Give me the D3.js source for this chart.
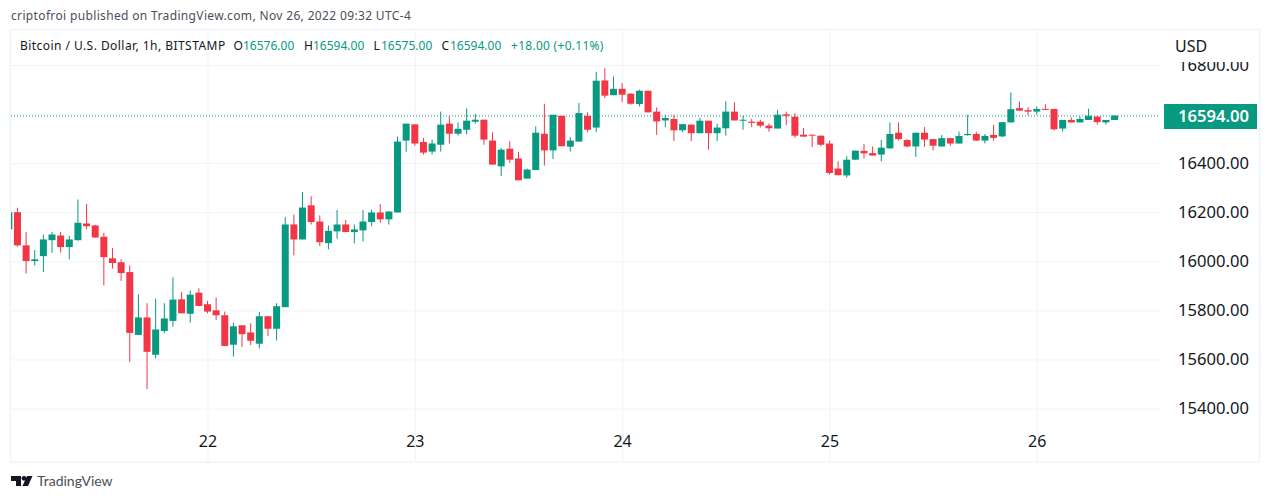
<!DOCTYPE html>
<html>
<head>
<meta charset="utf-8">
<script src="https://cdn.jsdelivr.net/npm/d3@7"></script>
<style>
  html, body { margin: 0; padding: 0; background: #fff; overflow: hidden; }
  text { font-family: "Noto Sans", sans-serif; }
</style>
</head>
<body>
<script>
// hourly candles, first one is Nov 21 01:00
var opens = [16130,16200,16065,16001,16021,16086,16105,16058,16086,16154,
  16146,16100,16012,15996,15956,15700,15771,15619,15716,15757,
  15845,15786,15872,15825,15800,15780,15660,15739,15710,15664,
  15776,15725,15813,16150,16089,16228,16162,16074,16122,16150,
  16119,16126,16160,16199,16171,16199,16492,16558,16486,16447,
  16475,16561,16520,16536,16569,16577,16492,16387,16459,16419,
  16337,16372,16520,16452,16593,16467,16488,16593,16545,16737,
  16677,16703,16683,16641,16695,16610,16574,16580,16534,16557,
  16522,16573,16522,16542,16610,16574,16569,16569,16553,16541,
  16599,16589,16516,16516,16512,16480,16378,16350,16414,16450,
  16441,16435,16460,16524,16494,16468,16524,16498,16468,16502,
  16480,16514,16519,16492,16515,16509,16566,16624,16616,16610,
  16621,16621,16541,16576,16566,16576,16590,16566,16576];
var closes = [16200,16065,16001,16008,16089,16109,16058,16089,16157,16143,
  16097,16017,15993,15952,15708,15771,15631,15722,15767,15844,
  15788,15864,15818,15795,15780,15655,15735,15703,15676,15776,
  15725,15817,16150,16089,16219,16160,16078,16124,16150,16119,
  16130,16162,16199,16171,16203,16488,16561,16480,16443,16480,
  16557,16520,16540,16573,16577,16496,16394,16455,16414,16330,
  16374,16524,16452,16597,16469,16492,16604,16536,16736,16675,
  16703,16679,16642,16695,16607,16570,16584,16534,16559,16522,
  16573,16522,16545,16610,16574,16577,16564,16553,16542,16597,
  16593,16512,16508,16512,16475,16360,16351,16414,16451,16440,
  16431,16463,16519,16498,16468,16524,16496,16471,16502,16480,
  16511,16519,16492,16511,16503,16567,16620,16614,16610,16621,
  16618,16538,16576,16566,16580,16593,16567,16576,16594];
var highs = [16205,16218,16120,16046,16109,16120,16120,16103,16252,16234,
  16149,16116,16054,16008,15983,15865,15829,15848,15829,15935,
  15875,15882,15890,15838,15852,15795,15750,15739,15748,15794,
  15776,15829,16180,16191,16283,16265,16187,16146,16209,16168,
  16150,16209,16211,16233,16203,16508,16561,16558,16503,16496,
  16610,16593,16566,16623,16601,16577,16526,16462,16489,16446,
  16378,16550,16642,16597,16593,16507,16645,16607,16772,16787,
  16753,16726,16685,16699,16695,16627,16597,16597,16559,16557,
  16584,16573,16561,16652,16648,16593,16580,16577,16561,16618,
  16610,16604,16543,16516,16512,16492,16408,16428,16451,16479,
  16468,16495,16566,16566,16498,16524,16547,16498,16515,16502,
  16529,16597,16528,16519,16556,16567,16688,16651,16628,16631,
  16640,16621,16576,16586,16590,16622,16590,16576,16594];
var lows = [16125,16060,15950,15983,15956,16035,16035,16008,16084,16130,
  16095,15902,15970,15920,15590,15700,15479,15604,15707,15733,
  15788,15750,15818,15788,15760,15655,15612,15651,15658,15645,
  15696,15677,15813,16024,16089,16150,16062,16049,16092,16119,
  16073,16081,16143,16157,16150,16199,16447,16471,16435,16435,
  16447,16480,16512,16517,16561,16475,16394,16347,16401,16330,
  16337,16372,16390,16417,16469,16447,16488,16526,16526,16665,
  16677,16649,16638,16631,16607,16515,16547,16490,16526,16490,
  16522,16455,16490,16512,16574,16536,16547,16545,16528,16541,
  16555,16504,16508,16466,16469,16353,16351,16341,16414,16419,
  16431,16407,16460,16492,16465,16425,16467,16452,16468,16471,
  16480,16512,16490,16480,16492,16506,16566,16614,16595,16598,
  16618,16533,16529,16566,16566,16576,16557,16557,16575];

var priceTicks = [15400, 15600, 15800, 16000, 16200, 16400, 16600, 16800];
var dayIndexes = [23, 47, 71, 95, 119];
var dayLabels = ['22', '23', '24', '25', '26'];
var lastPrice = 16594;

var upColor = '#089981', downColor = '#f23645', gridColor = '#f0f3fa', textColor = '#131722';
var w = 1271, h = 501;

var x = d3.scaleLinear().domain([23, 128]).range([207.5, 1114.5]);
var y = d3.scaleLinear().domain([15400, 16800]).range([408.5, 65]);

var svg = d3.select('body').append('svg').attr('width', w).attr('height', h)
  .style('display', 'block');

svg.append('text').attr('x', 11).attr('y', 20)
  .attr('font-size', 12).attr('letter-spacing', 0.35).attr('fill', '#4a4e59')
  .text('criptofroi published on TradingView.com, Nov 26, 2022 09:32 UTC-4');

// frame
svg.append('rect').attr('x', 10.5).attr('y', 29.5).attr('width', 1249).attr('height', 432.5)
  .attr('fill', 'none').attr('stroke', '#f0f3fa').attr('stroke-width', 1.5);

svg.append('clipPath').attr('id', 'pane').append('rect')
  .attr('x', 11).attr('y', 30).attr('width', 1149).attr('height', 432);

// grid
var grid = svg.append('g').attr('clip-path', 'url(#pane)');
grid.append('g').attr('transform', 'translate(1160,0)')
  .call(d3.axisLeft(y).tickValues(priceTicks).tickSize(1149).tickFormat(''))
  .call(function(g) {
    g.select('.domain').remove();
    g.selectAll('line').attr('stroke', gridColor);
  });
grid.append('g').attr('transform', 'translate(0,462)')
  .call(d3.axisTop(x).tickValues(dayIndexes).tickSize(432).tickFormat(''))
  .call(function(g) {
    g.select('.domain').remove();
    g.selectAll('line').attr('stroke', gridColor);
  });

// last price line
grid.append('line')
  .attr('x1', 11).attr('x2', 1164)
  .attr('y1', y(lastPrice) + 0.5).attr('y2', y(lastPrice) + 0.5)
  .attr('stroke', upColor).attr('stroke-width', 1).attr('stroke-dasharray', '1 2');

// candles
var candles = svg.append('g').attr('clip-path', 'url(#pane)')
  .selectAll('g').data(d3.range(opens.length)).join('g');

function candleColor(i) { return closes[i] >= opens[i] ? upColor : downColor; }

candles.append('line')
  .attr('x1', function(i) { return x(i); })
  .attr('x2', function(i) { return x(i); })
  .attr('y1', function(i) { return y(highs[i]); })
  .attr('y2', function(i) { return y(lows[i]); })
  .attr('stroke', candleColor).attr('stroke-width', 1);

candles.append('rect')
  .attr('x', function(i) { return x(i) - 3.5; })
  .attr('width', 7)
  .attr('y', function(i) { return y(Math.max(opens[i], closes[i])); })
  .attr('height', function(i) { return Math.max(1, Math.abs(y(opens[i]) - y(closes[i]))); })
  .attr('fill', candleColor);

// price axis
var priceAxis = svg.append('g').attr('transform', 'translate(1249,0)')
  .call(d3.axisLeft(y).tickValues(priceTicks).tickSize(0).tickPadding(0)
    .tickFormat(function(d) { return d.toFixed(2); }));
priceAxis.select('.domain').remove();
priceAxis.selectAll('text').attr('font-size', 16.6).attr('fill', textColor)
  .style('font-family', '"Noto Sans", sans-serif');
priceAxis.selectAll('.tick').filter(function(d) { return d === 16600; }).remove();

// header covers the top of the 16800 label
svg.append('rect').attr('x', 1165).attr('y', 31).attr('width', 92).attr('height', 31).attr('fill', '#fff');
svg.append('text').attr('x', 1175).attr('y', 52).attr('font-size', 16).attr('fill', textColor).text('USD');

svg.append('rect').attr('x', 1164).attr('y', 104).attr('width', 93).attr('height', 25).attr('fill', upColor);
svg.append('text').attr('x', 1249).attr('y', 122).attr('text-anchor', 'end')
  .attr('font-size', 16.6).attr('font-weight', 600).attr('fill', '#fff').text(lastPrice.toFixed(2));

// time axis
var timeAxis = svg.append('g').attr('transform', 'translate(0,442)')
  .call(d3.axisBottom(x).tickValues(dayIndexes).tickSize(0).tickPadding(0)
    .tickFormat(function(d, i) { return dayLabels[i]; }));
timeAxis.select('.domain').remove();
timeAxis.selectAll('text').attr('font-size', 16).attr('fill', textColor).attr('dy', '0.32em')
  .attr('y', 0).style('font-family', '"Noto Sans", sans-serif');

// legend
var legend = [
  [20, 'Bitcoin / U.S. Dollar, 1h, BITSTAMP', textColor, 0.45],
  [233.5, 'O', textColor, 0], [243, '16576.00', upColor, 0],
  [304, 'H', textColor, 0], [313, '16594.00', upColor, 0],
  [373.5, 'L', textColor, 0], [381, '16575.00', upColor, 0],
  [441.5, 'C', textColor, 0], [450, '16594.00', upColor, 0],
  [511, '+18.00 (+0.11%)', upColor, 0.28]
];
svg.append('g').selectAll('text').data(legend).join('text')
  .attr('x', function(d) { return d[0]; }).attr('y', 50)
  .attr('font-size', 12)
  .attr('letter-spacing', function(d) { return d[3]; })
  .attr('fill', function(d) { return d[2]; })
  .text(function(d) { return d[1]; });

// logo
var logo = svg.append('g').attr('fill', '#131722');
logo.append('path').attr('d', 'M11 476H21V486H16V481H11Z');
logo.append('circle').attr('cx', 24).attr('cy', 478.3).attr('r', 2.4);
logo.append('path').attr('d', 'M27 476H32.5L28 486H22.5Z');
svg.append('text').attr('x', 37).attr('y', 486).attr('font-size', 14).attr('fill', '#4a4e59')
  .style('font-family', 'Lato, sans-serif').text('TradingView');
</script>
</body>
</html>
